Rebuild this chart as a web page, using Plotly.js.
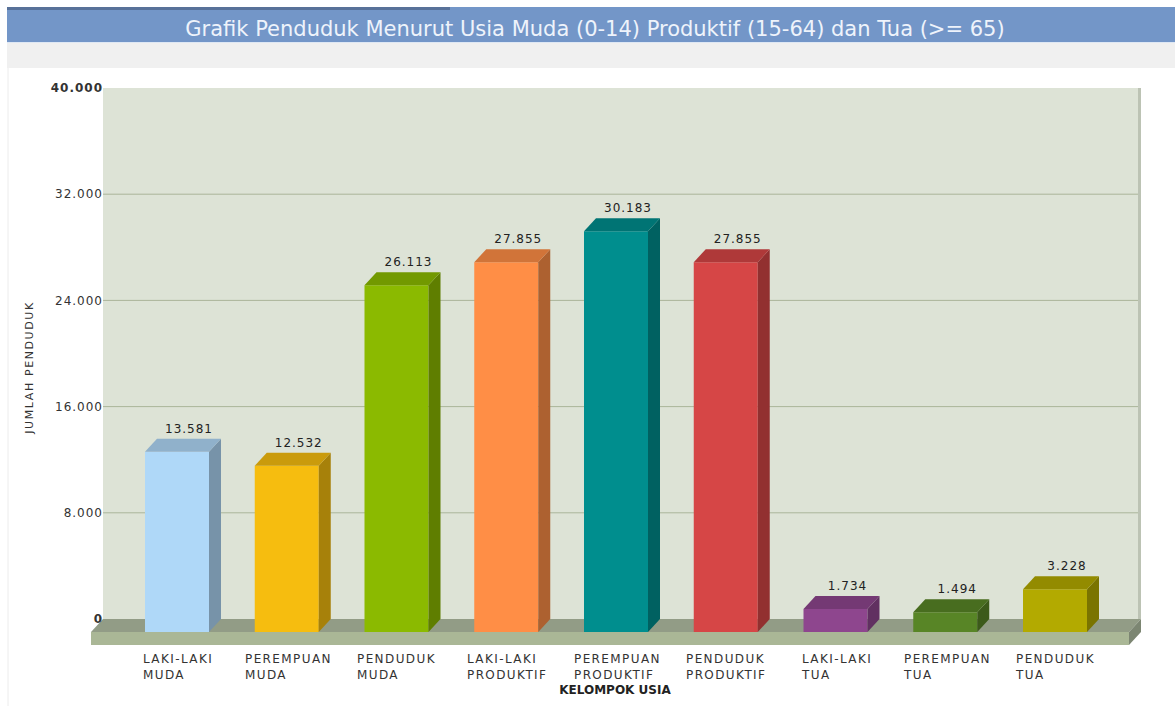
<!DOCTYPE html>
<html>
<head>
<meta charset="utf-8">
<script src="https://cdn.plot.ly/plotly-3.0.1.min.js"></script>
<style>
html, body { margin: 0; padding: 0; background: #ffffff; }
#chart { width: 1175px; height: 706px; }
#chart .annotation-text { letter-spacing: 1.4px; }
#chart .textpoint text { letter-spacing: 1px; }
#chart .ytick text { letter-spacing: 1px; }
#chart .g-ytitle text { letter-spacing: 1.6px; }
</style>
</head>
<body>
<div id="chart"></div>
<script>
// ---------------- data ----------------
const categories = [
  'LAKI-LAKI MUDA', 'PEREMPUAN MUDA', 'PENDUDUK MUDA',
  'LAKI-LAKI PRODUKTIF', 'PEREMPUAN PRODUKTIF', 'PENDUDUK PRODUKTIF',
  'LAKI-LAKI TUA', 'PEREMPUAN TUA', 'PENDUDUK TUA'
];
const tickLabels = [
  'LAKI-LAKI<br>MUDA', 'PEREMPUAN<br>MUDA', 'PENDUDUK<br>MUDA',
  'LAKI-LAKI<br>PRODUKTIF', 'PEREMPUAN<br>PRODUKTIF', 'PENDUDUK<br>PRODUKTIF',
  'LAKI-LAKI<br>TUA', 'PEREMPUAN<br>TUA', 'PENDUDUK<br>TUA'
];
const values = [13581, 12532, 26113, 27855, 30183, 27855, 1734, 1494, 3228];
const valueLabels = ['13.581', '12.532', '26.113', '27.855', '30.183', '27.855', '1.734', '1.494', '3.228'];
const yTickVals = [0, 8000, 16000, 24000, 32000, 40000];
const yTickText = ['<b>0</b>', '8.000', '16.000', '24.000', '32.000', '<b>40.000</b>'];
const barColors = ['#AFD8F8', '#F6BD0F', '#8BBA00', '#FF8E46', '#008E8E', '#D64646', '#8E468E', '#588526', '#B3AA00'];
const chartTitle = 'Grafik Penduduk Menurut Usia Muda (0-14) Produktif (15-64) dan Tua (>= 65)';
const xTitle = 'KELOMPOK USIA';
const yTitle = 'JUMLAH PENDUDUK';

// ---------------- geometry (pixels) ----------------
const FIG_W = 1175, FIG_H = 706;
const PLOT_L = 88, PLOT_R = 1142, PLOT_T = 88, PLOT_B = 647;
const WALL_L = 103, WALL_R = 1141, ZERO_Y = 619;
const SLOT = 109.75, FIRST_BACK_CENTER = 189;
const BAR_W = 64, DEPTH_X = 12, DEPTH_Y = 13, FLOOR_H = 13;
const LABEL_GAP = 3, CAT_SHIFT = 5;
const Y_MAX = 40000;

const pxPerVal = (ZERO_Y - PLOT_T) / Y_MAX;
const yMin = -(PLOT_B - ZERO_Y) / pxPerVal;
const xOf = px => (px - FIRST_BACK_CENTER) / SLOT;
const xMin = xOf(PLOT_L), xMax = xOf(PLOT_R);
const dX = DEPTH_X / SLOT, dY = DEPTH_Y / pxPerVal, bw = BAR_W / SLOT, floorH = FLOOR_H / pxPerVal;
const wallL = xOf(WALL_L), wallR = xOf(WALL_R);
const paperX = px => (px - PLOT_L) / (PLOT_R - PLOT_L);
const paperY = py => (PLOT_B - py) / (PLOT_B - PLOT_T);

function shade(hex, f) {
  const n = parseInt(hex.slice(1), 16);
  const r = Math.round(((n >> 16) & 255) * f), g = Math.round(((n >> 8) & 255) * f), b = Math.round((n & 255) * f);
  return 'rgb(' + r + ',' + g + ',' + b + ')';
}

const idx = categories.map((_, i) => i);
const traces = [];

// front faces: real bars
traces.push({
  type: 'bar',
  x: idx.map(i => i - dX),
  y: values,
  base: -dY,
  width: bw,
  marker: { color: barColors, line: { width: 0 } },
  text: categories,
  hoverinfo: 'text+y',
  textposition: 'none',
  showlegend: false
});

// side and top faces
idx.forEach(i => {
  const v = values[i];
  const fr = i - dX + bw / 2, fl = i - dX - bw / 2, br = i + bw / 2, bl = i - bw / 2;
  traces.push({
    type: 'scatter', mode: 'lines', fill: 'toself',
    x: [fr, fr, br, br, fr], y: [-dY, v - dY, v, 0, -dY],
    fillcolor: shade(barColors[i], 0.68), line: { width: 0 },
    hoverinfo: 'skip', showlegend: false
  });
  traces.push({
    type: 'scatter', mode: 'lines', fill: 'toself',
    x: [fl, fr, br, bl, fl], y: [v - dY, v - dY, v, v, v - dY],
    fillcolor: shade(barColors[i], 0.82), line: { width: 0 },
    hoverinfo: 'skip', showlegend: false
  });
});

// value labels
traces.push({
  type: 'scatter', mode: 'text',
  x: idx, y: values.map(v => v + LABEL_GAP / pxPerVal), text: valueLabels,
  textposition: 'top center',
  textfont: { family: 'DejaVu Sans, Verdana, sans-serif', size: 12, color: '#222222' },
  cliponaxis: false, hoverinfo: 'skip', showlegend: false
});

// ---------------- shapes ----------------
const shapes = [];
// header bar + band
shapes.push({ type: 'rect', xref: 'paper', yref: 'paper', x0: paperX(7), x1: paperX(FIG_W), y0: paperY(42), y1: paperY(68), fillcolor: '#f0f0f0', line: { width: 0 }, layer: 'below' });
shapes.push({ type: 'rect', xref: 'paper', yref: 'paper', x0: paperX(7), x1: paperX(FIG_W), y0: paperY(42), y1: paperY(7), fillcolor: '#7396c8', line: { width: 0 }, layer: 'below' });
shapes.push({ type: 'rect', xref: 'paper', yref: 'paper', x0: paperX(7), x1: paperX(450), y0: paperY(10), y1: paperY(7), fillcolor: '#4d6185', opacity: 0.7, line: { width: 0 }, layer: 'below' });
shapes.push({ type: 'rect', xref: 'paper', yref: 'paper', x0: paperX(7), x1: paperX(FIG_W), y0: paperY(43), y1: paperY(42), fillcolor: '#dfe8f4', line: { width: 0 }, layer: 'below' });
shapes.push({ type: 'line', xref: 'paper', yref: 'paper', x0: paperX(8), x1: paperX(8), y0: paperY(68), y1: paperY(FIG_H), line: { color: '#ececec', width: 1 }, layer: 'below' });
// wall
shapes.push({ type: 'rect', xref: 'x', yref: 'y', x0: wallL, x1: wallR, y0: 0, y1: Y_MAX, fillcolor: '#dde3d6', line: { width: 0 }, layer: 'below' });
shapes.push({ type: 'rect', xref: 'x', yref: 'y', x0: xOf(WALL_R - 3), x1: wallR, y0: 0, y1: Y_MAX, fillcolor: '#bcc3b4', line: { width: 0 }, layer: 'below' });
// gridlines
yTickVals.filter(v => v > 0 && v < Y_MAX).forEach(v => {
  shapes.push({ type: 'line', xref: 'x', yref: 'y', x0: wallL, x1: xOf(WALL_R - 3), y0: v, y1: v, line: { color: '#aab59a', width: 1 }, layer: 'below' });
});
// floor
const p = (x, y) => x + ',' + y;
shapes.push({ type: 'path', xref: 'x', yref: 'y', layer: 'below', fillcolor: '#929c86', line: { width: 0 },
  path: 'M' + p(wallL, 0) + ' L' + p(wallR, 0) + ' L' + p(wallR - dX, -dY) + ' L' + p(wallL - dX, -dY) + ' Z' });
shapes.push({ type: 'path', xref: 'x', yref: 'y', layer: 'below', fillcolor: '#aab796', line: { width: 0 },
  path: 'M' + p(wallL - dX, -dY) + ' L' + p(wallR - dX, -dY) + ' L' + p(wallR - dX, -dY - floorH) + ' L' + p(wallL - dX, -dY - floorH) + ' Z' });
shapes.push({ type: 'path', xref: 'x', yref: 'y', layer: 'below', fillcolor: '#7c8672', line: { width: 0 },
  path: 'M' + p(wallR - dX, -dY) + ' L' + p(wallR, 0) + ' L' + p(wallR, -floorH) + ' L' + p(wallR - dX, -dY - floorH) + ' Z' });

// ---------------- annotations (category labels) ----------------
const annotations = idx.map(i => ({
  xref: 'x', yref: 'paper', x: i - dX - CAT_SHIFT / SLOT, y: paperY(650),
  xanchor: 'center', yanchor: 'top', align: 'left', showarrow: false,
  text: tickLabels[i],
  font: { family: 'DejaVu Sans, Verdana, sans-serif', size: 12, color: '#333333' }
}));

const layout = {
  width: FIG_W, height: FIG_H,
  margin: { l: PLOT_L, r: FIG_W - PLOT_R, t: PLOT_T, b: FIG_H - PLOT_B, pad: 0 },
  paper_bgcolor: '#ffffff', plot_bgcolor: 'rgba(0,0,0,0)',
  separators: ',.',
  title: {
    text: chartTitle, x: 595 / FIG_W, xanchor: 'center', xref: 'container',
    y: 1 - 29 / FIG_H, yanchor: 'middle', yref: 'container',
    font: { family: 'DejaVu Sans, Verdana, sans-serif', size: 21, color: '#eef3fb' }
  },
  showlegend: false,
  barmode: 'overlay',
  hovermode: 'closest',
  xaxis: {
    range: [xMin, xMax], showgrid: false, zeroline: false, showline: false,
    showticklabels: false, ticks: '', fixedrange: true,
    title: { text: '<b>' + xTitle + '</b>', standoff: 38, font: { family: 'DejaVu Sans, Verdana, sans-serif', size: 12, color: '#222222' } }
  },
  yaxis: {
    range: [yMin, Y_MAX], anchor: 'free', position: paperX(WALL_L),
    showgrid: false, zeroline: false, showline: false, ticks: '',
    tickvals: yTickVals, ticktext: yTickText, fixedrange: true,
    tickfont: { family: 'DejaVu Sans, Verdana, sans-serif', size: 12, color: '#333333' },
    title: { text: yTitle, standoff: 19, font: { family: 'DejaVu Sans, Verdana, sans-serif', size: 11, color: '#333333' } }
  },
  shapes: shapes,
  annotations: annotations
};

Plotly.newPlot('chart', traces, layout, { displayModeBar: false, responsive: false });
</script>
</body>
</html>
